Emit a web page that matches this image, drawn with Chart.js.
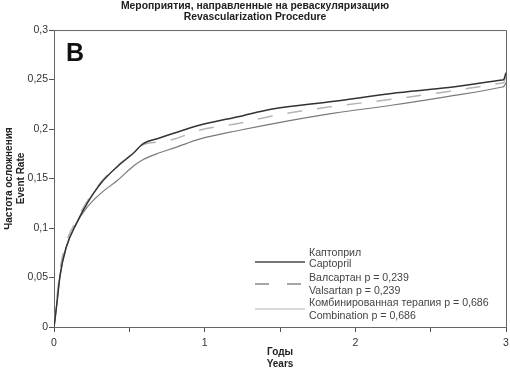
<!DOCTYPE html>
<html>
<head>
<meta charset="utf-8">
<script src="https://cdn.jsdelivr.net/npm/chart.js@4/dist/chart.umd.min.js"></script>
<style>
  html, body { margin: 0; padding: 0; background: #fff; }
  #wrap { width: 510px; height: 370px; }
</style>
</head>
<body>
<div id="wrap"><canvas id="myChart" width="510" height="370"></canvas></div>
<script>
// Годы (ось X) для всех трёх кривых
const years = [0, 0.01, 0.02, 0.04, 0.08, 0.15, 0.22, 0.31, 0.42, 0.53, 0.59, 0.7, 0.8, 0.97, 1.24, 1.44, 1.86, 2.24, 2.62, 2.975, 2.985, 3.0];

// Частота осложнения по группам
const captopril   = [0, 0.012, 0.025, 0.052, 0.08, 0.105, 0.125, 0.145, 0.162, 0.176, 0.185, 0.191, 0.196, 0.204, 0.213, 0.220, 0.228, 0.236, 0.242, 0.2495, 0.250, 0.257];
const valsartan   = [0, 0.014, 0.030, 0.058, 0.085, 0.108, 0.127, 0.146, 0.163, 0.176, 0.184, 0.187, 0.190, 0.199, 0.206, 0.213, 0.223, 0.230, 0.238, 0.2465, 0.247, 0.253];
const combination = [0, 0.012, 0.025, 0.052, 0.08, 0.105, 0.121, 0.135, 0.148, 0.163, 0.169, 0.176, 0.181, 0.190, 0.199, 0.205, 0.216, 0.224, 0.233, 0.2425, 0.243, 0.247];

const legendLabels = [
    ['Каптоприл', 'Captopril'],
    ['Валсартан p = 0,239', 'Valsartan p = 0,239'],
    ['Комбинированная терапия p = 0,686', 'Combination p = 0,686']
];
const yTicks = [0, 0.05, 0.1, 0.15, 0.2, 0.25, 0.3];
const xLabels = { 0: '0', 1: '1', 2: '2', 3: '3' };

const toPoints = (ys) => years.map((x, i) => ({ x: x, y: ys[i] }));

const FONT = '"Liberation Sans", Arial, sans-serif';

// Рамка вокруг области графика, буква "B" и легенда
const framePlugin = {
    id: 'frame',
    afterDatasetsDraw(chart) {
        const { ctx, chartArea: a } = chart;
        ctx.save();
        ctx.strokeStyle = '#666';
        ctx.lineWidth = 1;
        ctx.beginPath();
        ctx.moveTo(a.left, a.top + 0.5);
        ctx.lineTo(a.right + 0.5, a.top + 0.5);
        ctx.lineTo(a.right + 0.5, a.bottom);
        ctx.stroke();

        ctx.fillStyle = '#111';
        ctx.font = 'bold 25px ' + FONT;
        ctx.textBaseline = 'alphabetic';
        ctx.fillText('B', a.left + 12, a.top + 31);

        // легенда
        const styles = [
            { color: '#777', width: 2, dash: [] },
            { color: '#888', width: 1.5, dash: [14, 18] },
            { color: '#d8d8d8', width: 2, dash: [] }
        ];
        const lx = 255, tx = 309;
        const rows = [[253, 264, 262], [278, 291, 284], [303, 316, 309]];
        ctx.font = '10.6px ' + FONT;
        ctx.textBaseline = 'middle';
        legendLabels.forEach((lab, i) => {
            const s = styles[i];
            ctx.strokeStyle = s.color;
            ctx.lineWidth = s.width;
            ctx.setLineDash(s.dash);
            ctx.beginPath();
            ctx.moveTo(lx, rows[i][2]);
            ctx.lineTo(lx + 50, rows[i][2]);
            ctx.stroke();
            ctx.setLineDash([]);
            ctx.fillStyle = '#444';
            ctx.fillText(lab[0], tx, rows[i][0]);
            ctx.fillText(lab[1], tx, rows[i][1]);
        });
        ctx.restore();
    }
};

const ctx = document.getElementById('myChart').getContext('2d');

const myChart = new Chart(ctx, {
    type: 'scatter',
    data: {
        datasets: [
            {
                label: 'Combination',
                data: toPoints(combination),
                borderColor: '#7a7a7a',
                borderWidth: 1.2,
                order: 3
            },
            {
                label: 'Valsartan',
                data: toPoints(valsartan),
                borderColor: '#b4b4b4',
                borderWidth: 1.5,
                borderDash: [15, 15],
                order: 2
            },
            {
                label: 'Captopril',
                data: toPoints(captopril),
                borderColor: '#333',
                borderWidth: 1.5,
                order: 1
            }
        ]
    },
    options: {
        responsive: false,
        animation: false,
        showLine: true,
        elements: {
            point: { radius: 0, hoverRadius: 0 },
            line: { cubicInterpolationMode: 'monotone', fill: false }
        },
        layout: { padding: { left: 0, right: 0, top: 0, bottom: 0 } },
        plugins: {
            legend: { display: false },
            tooltip: { enabled: false },
            title: {
                display: true,
                text: ['Мероприятия, направленные на реваскуляризацию', 'Revascularization Procedure'],
                color: '#222',
                font: { family: FONT, size: 10.4, weight: 'bold', lineHeight: 1.06 },
                padding: { top: 1, bottom: 7 }
            }
        },
        scales: {
            x: {
                type: 'linear',
                min: 0,
                max: 3,
                afterFit: (s) => { s.height = 43; s.paddingRight = 4; },
                ticks: {
                    stepSize: 0.5,
                    color: '#333',
                    padding: 5,
                    maxRotation: 0,
                    font: { family: FONT, size: 10.5 },
                    callback: (v) => xLabels[v] !== undefined ? xLabels[v] : ''
                },
                grid: { drawOnChartArea: false, tickLength: 5, color: '#555' },
                border: { color: '#666', width: 1 },
                title: {
                    display: true,
                    text: ['Годы', 'Years'],
                    color: '#222',
                    font: { family: FONT, size: 10, weight: 'bold', lineHeight: 1.2 },
                    padding: { top: 0, bottom: 0 }
                }
            },
            y: {
                min: 0,
                max: 0.3,
                afterFit: (s) => { s.width = 54; },
                afterBuildTicks: (s) => { s.ticks = yTicks.map(v => ({ value: v })); },
                ticks: {
                    color: '#333',
                    padding: 1,
                    font: { family: FONT, size: 10.5 },
                    callback: (v) => String(Math.round(v * 100) / 100).replace('.', ',')
                },
                grid: { drawOnChartArea: false, tickLength: 5, color: '#555' },
                border: { color: '#666', width: 1 },
                title: {
                    display: true,
                    text: ['Частота осложнения', 'Event Rate'],
                    color: '#222',
                    font: { family: FONT, size: 10, weight: 'bold', lineHeight: 1.2 },
                    padding: { top: 3, bottom: 0 }
                }
            }
        }
    },
    plugins: [framePlugin]
});
</script>
</body>
</html>
